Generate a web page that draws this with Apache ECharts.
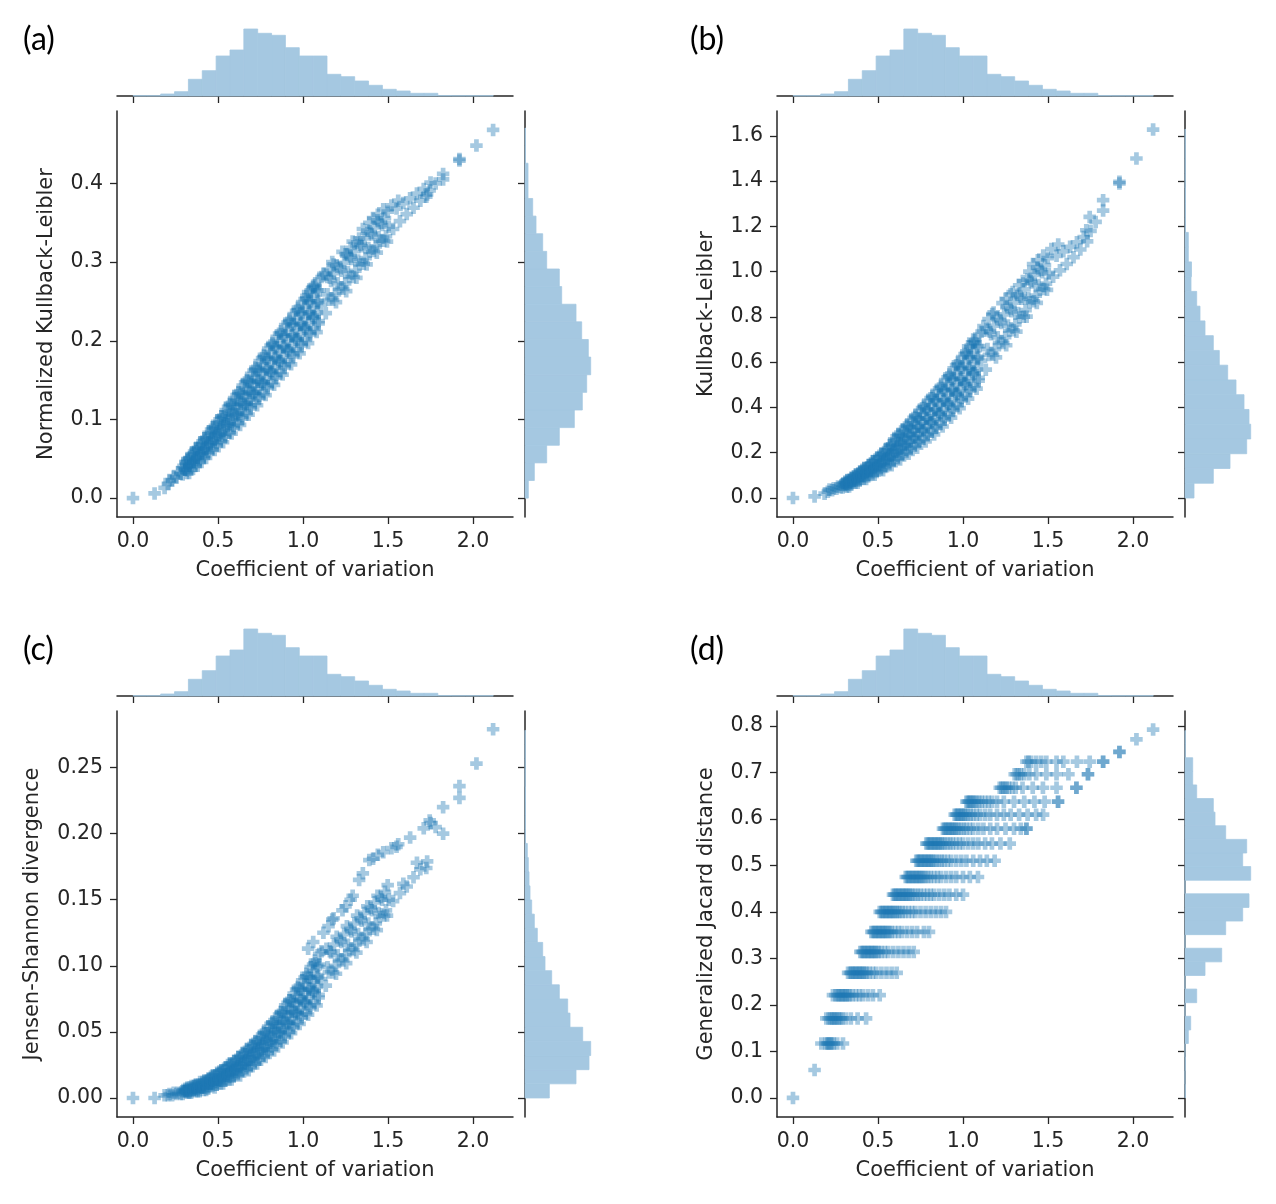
<!DOCTYPE html>
<html>
<head>
<meta charset="utf-8">
<title>Coefficient of variation vs. divergence measures</title>
<script src="https://cdn.jsdelivr.net/npm/echarts@6.0.0/dist/echarts.min.js"></script>
<style>
html,body{margin:0;padding:0;background:#fff;}
#chart{width:1276px;height:1204px;}
</style>
</head>
<body>
<div id="chart"></div>
<script>
// coefficient of variation of each sample (shared by panels a, b, c)
var cvValues = [
    0.205,0.215,0.230,0.240,0.255,0.265,0.280,0.290,
    0.292,0.306,0.297,0.309, 0.330,0.318,0.333,0.321, 0.342,0.356,0.347,0.359, 0.380,0.368,0.383,0.371,
    0.392,0.406,0.397,0.409, 0.430,0.418,0.433,0.421, 0.442,0.456,0.447,0.459, 0.480,0.468,0.483,0.471,
    0.492,0.506,0.497,0.509, 0.530,0.518,0.533,0.521, 0.542,0.556,0.547,0.559, 0.580,0.568,0.583,0.571,
    0.592,0.606,0.597,0.609, 0.630,0.618,0.633,0.621, 0.642,0.656,0.647,0.659, 0.680,0.668,0.683,0.671,
    0.692,0.706,0.697,0.709, 0.730,0.718,0.733,0.721, 0.742,0.756,0.747,0.759, 0.780,0.768,0.783,0.771,
    0.792,0.806,0.797,0.809, 0.830,0.818,0.833,0.821, 0.842,0.856,0.847,0.859, 0.880,0.868,0.883,0.871,
    0.892,0.906,0.897,0.909, 0.930,0.918,0.933,0.921, 0.942,0.956,0.947,0.959, 0.980,0.968,0.983,0.971,
    0.992,1.006,0.997,1.009, 1.030,1.018,1.033,1.021, 1.042,1.056,1.047,1.059, 1.080,1.068,1.083,1.071,
    1.092,1.106,1.097,1.109,
    1.134,1.144,1.138, 1.177,1.165,1.172, 1.194,1.204,1.198, 1.237,1.225,1.232, 1.254,1.264,1.258,
    1.297,1.285,1.292, 1.314,1.324,1.318, 1.357,1.345,1.352, 1.374,1.384,1.378, 1.417,1.405,1.412,
    1.434,1.444,1.438, 1.477,1.465,1.472, 1.494,1.504,1.498,
    1.53,1.55, 1.57,1.59, 1.61,1.63, 1.65,1.67, 1.69,1.71, 1.73,1.75,
    0,0.127,0.186,1.725,1.745,1.78,1.824,1.824,1.92,1.92,2.02,2.118,1.03,1.12,
    .317,.307,.314,.309,.320, .342,.332,.339,.334,.345, .367,.357,.364,.359,.370, .392,.382,.389,.384,.395,
    .417,.407,.414,.409,.420, .442,.432,.439,.434,.445, .467,.457,.464,.459,.470, .492,.482,.489,.484,.495,
    .517,.507,.514,.509,.520, .542,.532,.539,.534,.545, .567,.557,.564,.559,.570, .592,.582,.589,.584,.595,
    .617,.607,.614,.609,.620, .642,.632,.639,.634,.645, .667,.657,.664,.659,.670, .692,.682,.689,.684,.695,
    .717,.707,.714,.709,.720, .742,.732,.739,.734,.745, .767,.757,.764,.759,.770, .792,.782,.789,.784,.795,
    .817,.807,.814,.809,.820, .842,.832,.839,.834,.845, .867,.857,.864,.859,.870, .892,.882,.889,.884,.895,
    .917,.907,.914,.909,.920, .942,.932,.939,.934,.945, .967,.957,.964,.959,.970, .992,.982,.989,.984,.995,
    1.017,1.007,1.014,1.009,1.020, 1.042,1.032,1.039,1.034,1.045, 1.067,1.057,1.064,1.059,1.070, 1.092,1.082,1.089,1.084,1.095,
    1.152,1.158, 1.188,1.182, 1.212,1.218, 1.248,1.242, 1.272,1.278, 1.308,1.302,
    1.332,1.338, 1.368,1.362, 1.392,1.398, 1.428,1.422, 1.452,1.458, 1.488,1.482,
    1.06,1.15,1.18,1.25,1.28,1.33,1.39,1.44,1.52,1.56
];

// (a) normalized Kullback-Leibler
var klNormValues = [
    .018,.023,.022,.027,.026,.033,.031,.038,
    .030,.036,.041,.046, .032,.038,.044,.050, .039,.046,.053,.059, .041,.048,.055,.063,
    .048,.057,.065,.072, .051,.059,.067,.076, .059,.070,.078,.087, .061,.071,.080,.090,
    .070,.081,.091,.100, .071,.082,.093,.104, .080,.094,.105,.116, .082,.094,.106,.119,
    .092,.107,.119,.131, .093,.107,.120,.134, .104,.120,.133,.147, .106,.120,.134,.149,
    .118,.134,.148,.162, .118,.134,.148,.164, .130,.148,.163,.178, .131,.147,.163,.180,
    .143,.162,.178,.194, .144,.161,.177,.195, .157,.176,.192,.209, .157,.174,.192,.209,
    .170,.190,.207,.223, .170,.188,.206,.224, .184,.204,.221,.238, .184,.202,.220,.239,
    .197,.218,.236,.253, .197,.216,.234,.253, .211,.232,.250,.268, .211,.230,.248,.267,
    .225,.246,.264,.281,
    .235,.259,.284, .252,.276,.300, .249,.273,.296, .266,.289,.313, .263,.287,.310,
    .281,.304,.326, .280,.302,.325, .298,.320,.342, .297,.318,.340, .314,.335,.356,
    .312,.332,.353, .327,.347,.367, .326,.345,.364,
    .342,.368, .352,.375, .361,.381, .369,.387, .378,.393, .386,.401,
    0,.006,.013,.383,.391,.400,.412,.405,.429,.431,.448,.468,.262,.285,
    .032,.036,.041,.045,.049, .036,.041,.046,.051,.056, .041,.046,.052,.057,.063, .046,.051,.057,.063,.069,
    .051,.057,.063,.069,.076, .057,.063,.070,.076,.083, .062,.069,.076,.083,.090, .067,.075,.082,.089,.097,
    .072,.080,.088,.096,.104, .078,.086,.095,.103,.112, .083,.092,.101,.110,.120, .089,.099,.108,.118,.127,
    .095,.105,.115,.125,.135, .101,.112,.122,.132,.143, .108,.118,.129,.140,.150, .114,.125,.136,.147,.158,
    .121,.132,.143,.154,.166, .127,.139,.150,.162,.174, .133,.145,.158,.170,.182, .140,.152,.165,.177,.190,
    .147,.159,.172,.185,.197, .153,.166,.179,.192,.205, .160,.173,.186,.199,.212, .166,.180,.193,.206,.220,
    .173,.187,.200,.214,.227, .180,.194,.207,.221,.234, .187,.201,.215,.228,.242, .194,.208,.222,.235,.249,
    .201,.215,.229,.243,.257, .208,.222,.236,.250,.264, .215,.229,.243,.257,.271, .222,.236,.250,.264,.278,
    .252,.280, .259,.286, .266,.293, .273,.299, .281,.307, .289,.314,
    .297,.322, .305,.330, .313,.337, .320,.344, .327,.350, .333,.356,
    .270,.290,.297,.310,.318,.330,.350,.360,.372,.378
];

// (b) Kullback-Leibler
var klValues = [
    .028,.037,.034,.043,.041,.051,.048,.060,
    .046,.056,.064,.072, .051,.060,.070,.080, .062,.075,.085,.096, .067,.080,.092,.105,
    .081,.097,.111,.125, .084,.100,.116,.133, .100,.120,.137,.153, .103,.123,.142,.163,
    .120,.145,.166,.187, .123,.147,.170,.195, .143,.172,.196,.220, .145,.175,.205,.235,
    .170,.208,.240,.272, .170,.206,.241,.278, .196,.239,.275,.311, .195,.236,.276,.317,
    .224,.273,.313,.354, .222,.268,.312,.358, .253,.307,.352,.397, .250,.301,.349,.400,
    .285,.343,.392,.441, .281,.335,.388,.442, .318,.380,.432,.484, .316,.374,.429,.487,
    .357,.423,.478,.533, .355,.416,.476,.537, .399,.469,.528,.587, .397,.461,.523,.587,
    .442,.515,.575,.636, .439,.505,.569,.636, .485,.560,.623,.685, .483,.551,.616,.684,
    .531,.607,.671,.735,
    .567,.658,.748, .633,.723,.813, .621,.710,.799, .685,.773,.861, .675,.762,.848,
    .741,.825,.910, .735,.817,.899, .801,.880,.959, .801,.883,.965, .869,.952,1.034,
    .862,.941,1.019, .923,.997,1.071, .920,.990,1.060,
    .978,1.07, 1.006,1.09, 1.034,1.11, 1.064,1.13, 1.098,1.153, 1.134,1.18,
    0,.007,.019,1.183,1.242,1.22,1.316,1.27,1.397,1.39,1.5,1.628,.67,.76,
    .050,.057,.064,.071,.078, .058,.066,.074,.082,.090, .067,.076,.085,.094,.103, .076,.086,.097,.107,.117,
    .085,.097,.109,.120,.132, .095,.108,.121,.133,.146, .105,.119,.133,.148,.162, .115,.131,.147,.163,.178,
    .126,.143,.161,.178,.195, .137,.156,.175,.193,.212, .149,.170,.191,.212,.233, .163,.187,.211,.235,.259,
    .176,.203,.229,.256,.282, .190,.218,.245,.273,.301, .203,.233,.262,.292,.321, .217,.249,.280,.312,.343,
    .231,.265,.298,.331,.365, .246,.281,.316,.351,.386, .261,.298,.334,.371,.408, .277,.315,.353,.391,.430,
    .293,.332,.372,.412,.451, .309,.350,.391,.432,.473, .328,.370,.412,.454,.496, .347,.391,.434,.477,.521,
    .367,.412,.457,.502,.546, .388,.434,.481,.527,.573, .409,.457,.504,.551,.599, .431,.479,.527,.575,.623,
    .453,.502,.551,.599,.648, .474,.524,.574,.623,.673, .496,.547,.597,.647,.697, .519,.570,.621,.671,.722,
    .632,.735, .658,.761, .685,.786, .711,.811, .739,.837, .767,.863,
    .797,.889, .830,.922, .865,.959, .894,.986, .920,1.008, .947,1.029,
    .70,.79,.82,.88,.90,.94,1.0,1.05,1.10,1.12
];

// (c) Jensen-Shannon divergence
var jsValues = [
    .002,.003,.002,.004,.003,.004,.003,.005,
    .003,.005,.006,.007, .004,.005,.006,.008, .005,.006,.008,.009, .005,.006,.008,.010,
    .006,.008,.010,.012, .006,.008,.011,.013, .008,.011,.014,.016, .008,.011,.014,.017,
    .010,.014,.017,.020, .011,.014,.017,.021, .013,.018,.021,.025, .014,.017,.021,.026,
    .017,.021,.025,.029, .017,.022,.026,.031, .021,.026,.031,.035, .021,.026,.031,.036,
    .025,.031,.036,.041, .026,.031,.037,.042, .030,.037,.042,.048, .031,.037,.043,.049,
    .036,.043,.049,.056, .036,.043,.050,.057, .042,.050,.057,.063, .042,.050,.057,.065,
    .048,.057,.065,.072, .049,.057,.065,.074, .055,.065,.073,.082, .056,.065,.074,.083,
    .063,.073,.082,.091, .063,.073,.082,.092, .070,.082,.091,.101, .070,.081,.091,.102,
    .078,.090,.101,.111,
    .085,.099,.113, .095,.110,.135, .094,.108,.122, .104,.118,.142, .102,.116,.130,
    .112,.126,.153, .110,.124,.138, .120,.134,.170, .118,.132,.145, .128,.142,.181,
    .127,.140,.153, .138,.150,.186, .138,.150,.161,
    .149,.190, .155,.162, .160,.197, .167,.178, .173,.204, .179,.208,
    0,0,.002,.174,.210,.205,.220,.200,.236,.227,.253,.279,.113,.125,
    .004,.005,.005,.006,.007, .004,.005,.006,.008,.009, .005,.006,.008,.009,.010, .005,.007,.009,.010,.012,
    .006,.008,.010,.011,.013, .007,.009,.011,.013,.015, .009,.011,.013,.015,.017, .010,.012,.014,.017,.019,
    .011,.013,.016,.019,.021, .013,.015,.018,.021,.023, .014,.017,.020,.023,.026, .016,.019,.022,.025,.028,
    .018,.021,.024,.028,.031, .020,.023,.027,.030,.034, .022,.026,.029,.033,.037, .024,.028,.032,.036,.040,
    .026,.030,.035,.039,.043, .029,.033,.037,.042,.046, .032,.036,.041,.045,.050, .034,.039,.044,.049,.054,
    .037,.042,.047,.052,.057, .040,.045,.051,.056,.061, .043,.049,.054,.060,.065, .046,.052,.058,.064,.070,
    .050,.056,.062,.068,.074, .053,.060,.066,.073,.079, .057,.064,.071,.077,.084, .061,.068,.075,.082,.089,
    .064,.072,.079,.086,.094, .068,.076,.083,.091,.099, .072,.080,.088,.096,.104, .076,.084,.092,.100,.109,
    .095,.111, .100,.116, .104,.120, .108,.124, .112,.128, .116,.132,
    .120,.136, .124,.140, .128,.144, .132,.148, .137,.152, .142,.156,
    .118,.130,.136,.145,.150,.165,.180,.184,.189,.192
];

// (d) generalized Jacard distance: discrete levels, with the CV values seen on each level
var jacLevels = [0, 0.06, 0.117, 0.171, 0.221, 0.269, 0.314, 0.357, 0.40, 0.437, 0.475,
    0.51, 0.547, 0.579, 0.609, 0.637, 0.667, 0.696, 0.723, 0.744, 0.771, 0.792];
var jacLevelCv = [
    [0],
    [0.127],
    [0.167,0.19,0.2,0.207,0.214,0.222,0.23,0.24,0.26,0.294],
    [0.196,0.21,0.22,0.228,0.236,0.244,0.252,0.26,0.27,0.28,0.29,0.31,0.34,0.38,0.43],
    [0.235,0.25,0.26,0.268,0.276,0.284,0.292,0.3,0.308,0.316,0.325,0.335,0.35,0.37,0.39,0.41,0.44,0.47,0.51],
    [0.324,0.335,0.343,0.351,0.359,0.367,0.375,0.383,0.391,0.399,0.407,0.415,0.425,0.435,0.45,0.47,0.49,0.52,0.55,0.58,0.61],
    [0.396,0.405,0.413,0.421,0.429,0.437,0.445,0.453,0.461,0.469,0.477,0.485,0.495,0.505,0.52,0.54,0.56,0.59,0.62,0.65,0.68,0.71],
    [0.461,0.47,0.478,0.486,0.494,0.502,0.51,0.518,0.526,0.534,0.542,0.55,0.56,0.57,0.58,0.6,0.62,0.64,0.67,0.7,0.73,0.77,0.8],
    [0.51,0.519,0.527,0.535,0.543,0.551,0.559,0.567,0.575,0.583,0.591,0.6,0.61,0.62,0.63,0.645,0.66,0.68,0.7,0.72,0.75,0.78,0.81,0.84,0.87,0.9],
    [0.588,0.596,0.604,0.612,0.62,0.628,0.636,0.644,0.652,0.66,0.668,0.676,0.685,0.695,0.705,0.72,0.735,0.75,0.77,0.79,0.81,0.83,0.86,0.89,0.92,0.96,1.0],
    [0.663,0.671,0.679,0.687,0.695,0.703,0.711,0.719,0.727,0.735,0.743,0.751,0.76,0.77,0.78,0.795,0.81,0.83,0.85,0.87,0.9,0.93,0.96,1.0,1.04,1.088],
    [0.725,0.733,0.741,0.749,0.757,0.765,0.773,0.781,0.789,0.797,0.805,0.813,0.822,0.832,0.845,0.86,0.875,0.89,0.91,0.93,0.96,0.99,1.02,1.06,1.1,1.14,1.186],
    [0.784,0.792,0.8,0.808,0.816,0.824,0.832,0.84,0.848,0.856,0.864,0.873,0.883,0.895,0.91,0.925,0.94,0.96,0.98,1.0,1.03,1.06,1.09,1.13,1.17,1.22,1.275],
    [0.882,0.89,0.898,0.906,0.914,0.922,0.93,0.938,0.946,0.955,0.965,0.975,0.99,1.005,1.02,1.04,1.06,1.09,1.12,1.16,1.2,1.25,1.3,1.34,1.373,1.373],
    [0.951,0.959,0.967,0.975,0.983,0.991,0.999,1.008,1.018,1.03,1.045,1.06,1.08,1.1,1.13,1.16,1.2,1.24,1.28,1.33,1.38,1.43,1.471],
    [1.02,1.028,1.036,1.044,1.052,1.06,1.07,1.08,1.095,1.11,1.13,1.15,1.17,1.2,1.24,1.3,1.36,1.42,1.48,1.559,1.559],
    [1.216,1.226,1.236,1.246,1.256,1.27,1.29,1.31,1.35,1.41,1.47,1.55,1.667,1.667],
    [1.304,1.316,1.328,1.34,1.36,1.39,1.43,1.49,1.55,1.62,1.735,1.735],
    [1.373,1.385,1.4,1.43,1.46,1.49,1.55,1.59,1.67,1.745,1.824,1.824],
    [1.92,1.92],
    [2.02],
    [2.118]
];

// marginal histograms (bar heights, bins start at 0)
var cvBinWidth = 0.0815;
var cvHist = [0.3,0.3,2,4.3,16.7,25.3,40,46,67,62.7,60.7,48.3,40,40,21.7,19.3,15,10.7,6.7,5,2.7,2.7,0.4,0.3,0.3,0.3];
var klNormBinWidth = 0.0224;
var klNormHist = [3.3,9.3,21.7,34.3,49.3,57.3,61.7,65.7,63.3,56.7,51,36.7,34.3,21.7,17.7,11,7.7,3,3,0.5,0.5];
var klBinWidth = 0.0652;
var klHist = [9,28.3,45,61.7,65.7,64,59,51,42.7,34.3,28.3,20,15,11.7,6,6.5,3.3,3.3,0.5,0.5,0.5,0.3,0.3,0.3,0.3];
var jsBinWidth = 0.0107;
var jsHist = [24.3,51,64,65.7,57.7,45,42.7,34.3,26.7,20,17.7,12.3,9.3,6.7,5,4,3.3,2.3,0.5,0.5,0.5,0.5,0.3,0.3,0.3,0.3];
var jacBinWidth = 0.02926;
var jacHist = [0.3,0,0.3,0,3.3,5.7,0,11.7,0,20,36.7,0,40.7,57.7,64,0,65.7,57.7,61.7,40.7,30,28.3,11.7,7.7,7.7,0.3,0.3];

// tick labels
var cvTicks = [0, 0.5, 1.0, 1.5, 2.0];
var klNormTicks = [0, 0.1, 0.2, 0.3, 0.4];
var klTicks = [0, 0.2, 0.4, 0.6, 0.8, 1.0, 1.2, 1.4, 1.6];
var jsTicks = [0, 0.05, 0.10, 0.15, 0.20, 0.25];
var jacTicks = [0, 0.1, 0.2, 0.3, 0.4, 0.5, 0.6, 0.7, 0.8];

var BLUE = '#1f77b4';
var HIST_FILL = '#a5c8e1';
var INK = '#262626';
var FONT = 'DejaVu Sans';
var PLUS = 'path://M3.75,0H8.25V3.75H12V8.25H8.25V12H3.75V8.25H0V3.75H3.75Z';
var X_MIN = -0.094, X_MAX = 2.235;

function pairs(ys){
    var out = [];
    for (var i = 0; i < cvValues.length; i++) {
        out.push([cvValues[i], ys[i]]);
    }
    return out;
}

function jacPairs(){
    var out = [];
    jacLevels.forEach(function(level, i){
        jacLevelCv[i].forEach(function(cv){ out.push([cv, level]); });
    });
    return out;
}

function bins(counts, width){
    return counts.map(function(c, i){ return [i * width, (i + 1) * width, c]; });
}

function topBar(params, api){
    var a = api.coord([api.value(0), 0]);
    var b = api.coord([api.value(1), api.value(2)]);
    return {type: 'rect', shape: {x: a[0], y: b[1], width: b[0] - a[0], height: a[1] - b[1]},
        style: {fill: HIST_FILL, stroke: HIST_FILL, lineWidth: 0.8}};
}

function sideBar(params, api){
    var a = api.coord([0, api.value(0)]);
    var b = api.coord([api.value(2), api.value(1)]);
    return {type: 'rect', shape: {x: a[0], y: b[1], width: b[0] - a[0], height: a[1] - b[1]},
        style: {fill: HIST_FILL, stroke: HIST_FILL, lineWidth: 0.8}};
}

var panels = [
    {ox: 0, oy: 0, tag: '(a)', tagX: 23, tagY: 24, name: 'Normalized Kullback-Leibler', gap: 60,
        points: pairs(klNormValues), yMin: -0.024, yMax: 0.492, ticks: klNormTicks, digits: 1,
        hist: bins(klNormHist, klNormBinWidth)},
    {ox: 660, oy: 0, tag: '(b)', tagX: 690, tagY: 24, name: 'Kullback-Leibler', gap: 60,
        points: pairs(klValues), yMin: -0.084, yMax: 1.71, ticks: klTicks, digits: 1,
        hist: bins(klHist, klBinWidth)},
    {ox: 0, oy: 600, tag: '(c)', tagX: 23, tagY: 634, name: 'Jensen-Shannon divergence', gap: 74,
        points: pairs(jsValues), yMin: -0.0144, yMax: 0.2928, ticks: jsTicks, digits: 2,
        hist: bins(jsHist, jsBinWidth)},
    {ox: 660, oy: 600, tag: '(d)', tagX: 690, tagY: 634, name: 'Generalized Jacard distance', gap: 60,
        points: jacPairs(), yMin: -0.041, yMax: 0.832, ticks: jacTicks, digits: 1,
        hist: bins(jacHist, jacBinWidth)}
];

var lineStyle = {color: INK, width: 1.5};
var tickStyle = {color: INK, width: 1.3};
var nameStyle = {fontFamily: FONT, fontSize: 21, color: INK};

var option = {
    animation: false,
    backgroundColor: '#fff',
    title: [], grid: [], xAxis: [], yAxis: [], series: []
};

panels.forEach(function(p, i){
    var g = 3 * i;
    var fmt = function(v){ return v.toFixed(p.digits); };

    option.title.push({text: p.tag, left: p.tagX, top: p.tagY, padding: 0,
        textStyle: {fontFamily: 'Lato', fontSize: 32, fontWeight: 'normal', color: '#000'}});

    // main, top marginal, right marginal
    option.grid.push({left: 117 + p.ox, top: 111 + p.oy, width: 396, height: 406});
    option.grid.push({left: 117 + p.ox, top: 26 + p.oy, width: 396, height: 70});
    option.grid.push({left: 525 + p.ox, top: 111 + p.oy, width: 70, height: 406});

    option.xAxis.push({
        gridIndex: g, type: 'value', min: X_MIN, max: X_MAX,
        name: 'Coefficient of variation', nameLocation: 'middle', nameGap: 43, nameTextStyle: nameStyle,
        axisLine: {show: true, onZero: false, lineStyle: lineStyle},
        axisTick: {show: true, length: 7, lineStyle: tickStyle, customValues: cvTicks},
        axisLabel: {margin: 14, fontFamily: FONT, fontSize: 20.5, color: INK, customValues: cvTicks,
            formatter: function(v){ return v.toFixed(1); }},
        splitLine: {show: false}
    });
    option.xAxis.push({
        gridIndex: g + 1, type: 'value', min: X_MIN, max: X_MAX,
        axisLine: {show: true, onZero: false, lineStyle: lineStyle},
        axisTick: {show: true, length: 7, lineStyle: tickStyle, customValues: cvTicks},
        axisLabel: {show: false}, splitLine: {show: false}
    });
    option.xAxis.push({gridIndex: g + 2, type: 'value', min: 0, max: 70, show: false});

    option.yAxis.push({
        gridIndex: g, type: 'value', min: p.yMin, max: p.yMax,
        name: p.name, nameLocation: 'middle', nameRotate: 90, nameGap: p.gap, nameTextStyle: nameStyle,
        axisLine: {show: true, onZero: false, lineStyle: lineStyle},
        axisTick: {show: true, length: 7, lineStyle: tickStyle, customValues: p.ticks},
        axisLabel: {margin: 14, fontFamily: FONT, fontSize: 20.5, color: INK, customValues: p.ticks, formatter: fmt},
        splitLine: {show: false}
    });
    option.yAxis.push({gridIndex: g + 1, type: 'value', min: 0, max: 70, show: false});
    option.yAxis.push({
        gridIndex: g + 2, type: 'value', min: p.yMin, max: p.yMax,
        axisLine: {show: true, onZero: false, lineStyle: lineStyle},
        axisTick: {show: true, length: 7, lineStyle: tickStyle, customValues: p.ticks},
        axisLabel: {show: false}, splitLine: {show: false}
    });

    option.series.push({
        type: 'scatter', xAxisIndex: g, yAxisIndex: g, data: p.points,
        symbol: PLUS, symbolSize: 12.5, silent: true,
        itemStyle: {color: BLUE, opacity: 0.4}
    });
    option.series.push({
        type: 'custom', xAxisIndex: g + 1, yAxisIndex: g + 1, data: bins(cvHist, cvBinWidth),
        encode: {x: [0, 1], y: 2}, renderItem: topBar, silent: true
    });
    option.series.push({
        type: 'custom', xAxisIndex: g + 2, yAxisIndex: g + 2, data: p.hist,
        encode: {x: 2, y: [0, 1]}, renderItem: sideBar, silent: true
    });
});

var chart = echarts.init(document.getElementById('chart'));
chart.setOption(option);
</script>
</body>
</html>
